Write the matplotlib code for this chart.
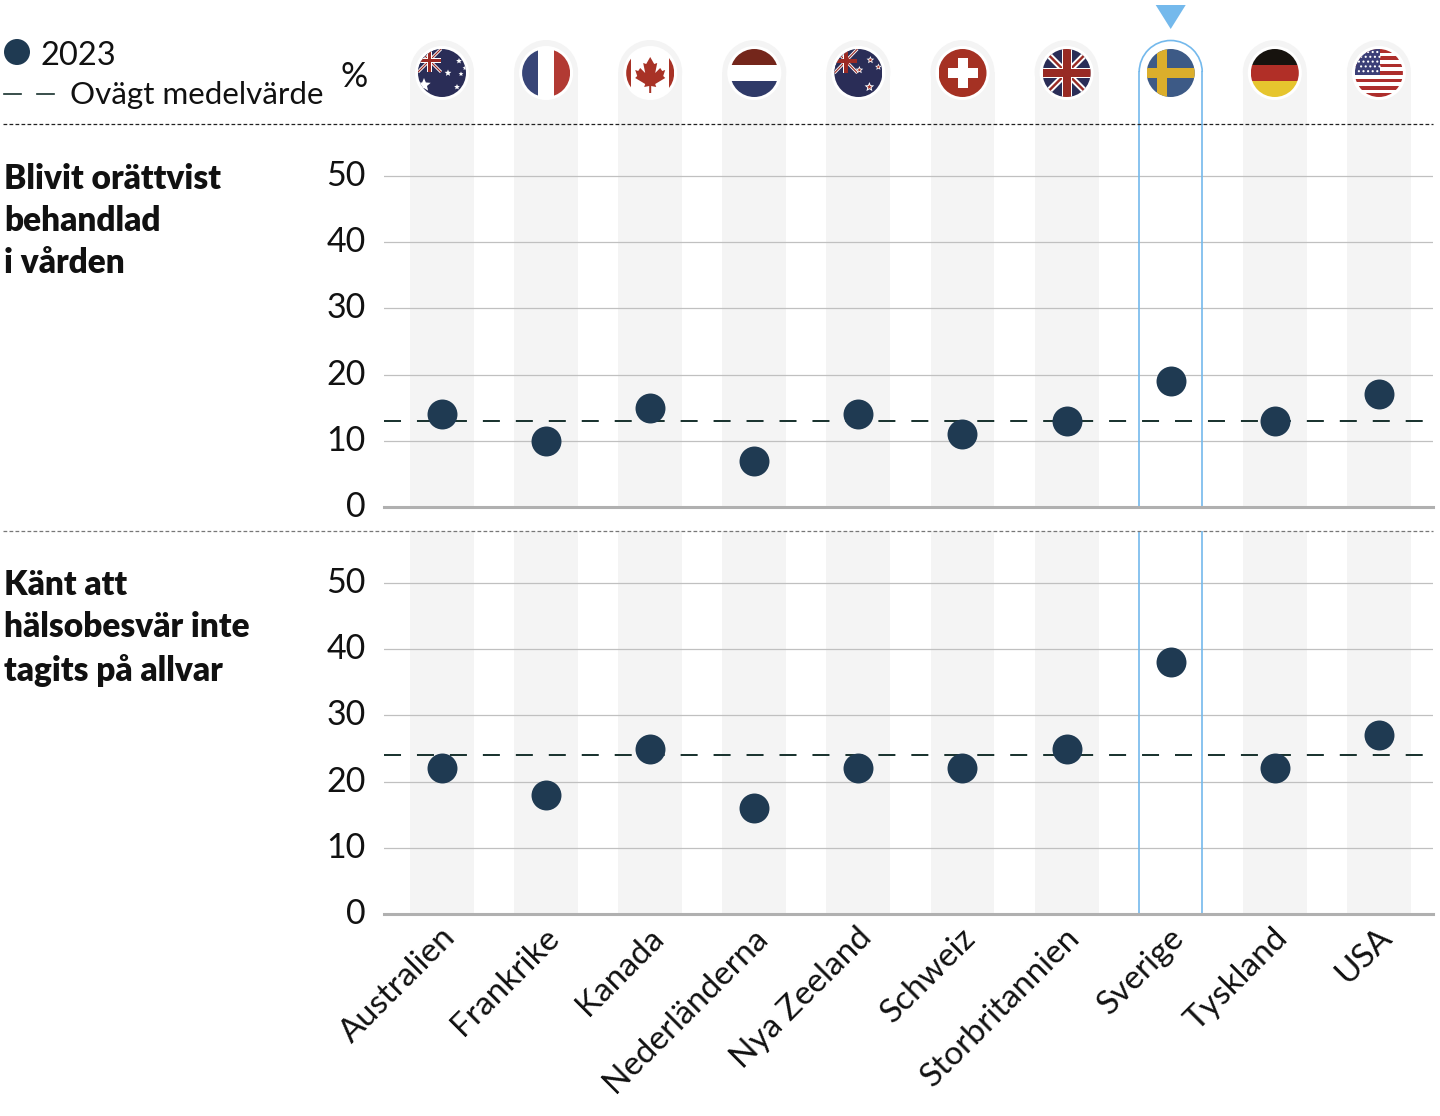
#!/usr/bin/env python3
from math import sin, cos, pi

import matplotlib
matplotlib.use('Agg')
import matplotlib.pyplot as plt
from matplotlib.patches import Circle, Rectangle, Polygon, PathPatch
from matplotlib.path import Path
from matplotlib.transforms import ScaledTranslation

# data
countries = ['Australien', 'Frankrike', 'Kanada', 'Nederländerna', 'Nya Zeeland',
             'Schweiz', 'Storbritannien', 'Sverige', 'Tyskland', 'USA']
orattvist = [14, 10, 15, 7, 14, 11, 13, 19, 13, 17]
inte_allvar = [22, 18, 25, 16, 22, 22, 25, 38, 22, 27]
mean_orattvist = 13
mean_allvar = 24
y_ticks = [0, 10, 20, 30, 40, 50]
highlight = 'Sverige'
title_top = 'Blivit orättvist\nbehandlad\ni vården'
title_bottom = 'Känt att\nhälsobesvär inte\ntagits på allvar'

W, H = 1440, 1116
DARK = '#1f3a52'
MEAN = '#16302c'
BLUE = '#74b9ec'
BAND = '#f4f4f4'
TEXT = '#111111'
FS = 23.5
plt.rcParams['font.family'] = ['Lato', 'DejaVu Sans']

# pixel layout of the panels
X0, X1 = 384, 1433
CX0, STEP = 442, 104.1
PX_PER_UNIT = 6.62


def cx(i):
    return CX0 + STEP * i


fig = plt.figure(figsize=(W / 100, H / 100), dpi=100)
bg = fig.add_axes([0, 0, 1, 1], zorder=0)
bg.set_xlim(0, W)
bg.set_ylim(H, 0)
bg.axis('off')
fg = fig.add_axes([0, 0, 1, 1], zorder=5)
fg.set_xlim(0, W)
fg.set_ylim(H, 0)
fg.axis('off')


def nudge(labels, dx_px, dy_px):
    # flytta tick-etiketter några pixlar
    off = ScaledTranslation(dx_px / 100, dy_px / 100, fig.dpi_scale_trans)
    for lab in labels:
        lab.set_transform(lab.get_transform() + off)


def panel(top_px, bottom_px, values, mean):
    ax = fig.add_axes([X0 / W, 1 - bottom_px / H, (X1 - X0) / W, (bottom_px - top_px) / H], zorder=2)
    ax.patch.set_alpha(0)
    ax.set_xlim((X0 - CX0) / STEP, (X1 - CX0) / STEP)
    ax.set_ylim(0, (bottom_px - top_px) / PX_PER_UNIT)
    for s in ['top', 'left', 'right']:
        ax.spines[s].set_visible(False)
    ax.spines['bottom'].set_color('#b0b0b0')
    ax.spines['bottom'].set_linewidth(2.2)
    ax.set_yticks(y_ticks)
    ax.tick_params(axis='y', length=0, pad=13, labelsize=FS + 1, labelcolor=TEXT)
    ax.tick_params(axis='x', length=0)
    nudge(ax.get_yticklabels(), 0, 3)
    ax.grid(axis='y', color='#c0c0c0', lw=0.9, zorder=1)
    ax.set_axisbelow(True)
    xs = list(range(len(values)))
    for i in xs:
        if countries[i] == highlight:
            for edge in (-0.303, 0.303):
                ax.axvline(i + edge, color=BLUE, lw=1.2, zorder=2)
        else:
            ax.axvspan(i - 0.307, i + 0.307, color=BAND, lw=0, zorder=0)
    ax.axhline(mean, color=MEAN, lw=1.4, dashes=(8.75, 8.2), zorder=3)
    ax.scatter(xs, values, s=465, color=DARK, linewidths=0, zorder=4, clip_on=False)
    return ax


top = panel(124, 507, orattvist, mean_orattvist)
bottom = panel(531, 914, inte_allvar, mean_allvar)
top.set_xticks([])
bottom.set_xticks(range(len(countries)))
bottom.set_xticklabels(countries, rotation=45, ha='right', rotation_mode='anchor',
                       fontsize=FS + 0.5, color=TEXT)
bottom.tick_params(axis='x', pad=6)
nudge(bottom.get_xticklabels(), -2, 0)

# separators
fg.plot([3, X1], [124, 124], color='#222222', lw=0.9, dashes=(3, 1.8))
fg.plot([3, X1], [531, 531], color='#777777', lw=0.9, dashes=(3, 1.8))

# headings
bg.text(4, 221, title_top, fontsize=24, fontweight='heavy', va='center', ha='left',
        linespacing=1.38, color=TEXT)
bg.text(4, 628, title_bottom, fontsize=24, fontweight='heavy', va='center', ha='left',
        linespacing=1.38, color=TEXT)

# legend
bg.add_patch(Circle((17, 52), 13, color=DARK, lw=0))
bg.text(41, 56, '2023', fontsize=FS, va='center', color=TEXT)
bg.plot([4, 21], [94, 94], color=MEAN, lw=1.2)
bg.plot([37, 54], [94, 94], color=MEAN, lw=1.2)
bg.text(70, 95, 'Ovägt medelvärde', fontsize=22.6, va='center', color=TEXT)
bg.text(354, 77, '%', fontsize=FS + 1, va='center', ha='center', color=TEXT)

# swedish marker
sv = cx(countries.index(highlight))
bg.add_patch(Polygon([(sv - 15, 5), (sv + 15, 5), (sv, 29)], color=BLUE, lw=0))


def star(x, y, r, color='white', n=5):
    pts = []
    for k in range(2 * n):
        rr = r if k % 2 == 0 else r * 0.45
        a = -pi / 2 + k * pi / n
        pts.append((x + rr * cos(a), y + rr * sin(a)))
    return Polygon(pts, color=color, lw=0)


def union_jack(x0, y0, x1, y1, blue='#2a2d57', red='#9b2a24'):
    """Brittisk flagga i rutan x0..x1, y0..y1"""
    out = [Rectangle((x0, y0), x1 - x0, y1 - y0, color=blue, lw=0)]
    w = x1 - x0
    for a, b, col, lw in [((x0, y0), (x1, y1), 'white', w * 0.13), ((x0, y1), (x1, y0), 'white', w * 0.13),
                          ((x0, y0), (x1, y1), red, w * 0.05), ((x0, y1), (x1, y0), red, w * 0.05)]:
        out.append(([a[0], b[0]], [a[1], b[1]], col, lw))
    mx, my = (x0 + x1) / 2, (y0 + y1) / 2
    t = w * 0.105
    out.append(Rectangle((x0, my - t), w, 2 * t, color='white', lw=0))
    out.append(Rectangle((mx - t, y0), 2 * t, y1 - y0, color='white', lw=0))
    t = w * 0.085
    out.append(Rectangle((x0, my - t), w, 2 * t, color=red, lw=0))
    out.append(Rectangle((mx - t, y0), 2 * t, y1 - y0, color=red, lw=0))
    return out


def add_items(items, clip):
    for it in items:
        if isinstance(it, tuple):
            ln, = bg.plot(it[0], it[1], color=it[2], lw=it[3] * 0.72, solid_capstyle='butt', zorder=3)
            ln.set_clip_path(clip)
        else:
            it.set_zorder(3)
            bg.add_patch(it)
            it.set_clip_path(clip)


def flag_items(name, x, y, r=24):
    x0, x1, y0, y1 = x - r, x + r, y - r, y + r
    h = 2 * r

    def rect(a, b, c, d, col):
        return Rectangle((a, b), c - a, d - b, color=col, lw=0)

    if name == 'Australien':
        items = [rect(x0, y0, x1, y1, '#2a2d57')]
        items += union_jack(x0, y0, x0 + 23, y0 + 23)
        items += [star(x - 18, y + 12, 7), star(x + 6, y, 3.5), star(x + 17, y - 12, 3),
                  star(x + 15, y + 14, 3), star(x + 19, y + 1, 2.5), star(x + 23, y - 5, 2.5)]
    elif name == 'Frankrike':
        items = [rect(x0, y0, x - 8, y1, '#384577'), rect(x - 8, y0, x + 8, y1, 'white'),
                 rect(x + 8, y0, x1, y1, '#b23a33')]
    elif name == 'Kanada':
        items = [rect(x0, y0, x1, y1, 'white'), rect(x0, y0, x - 19, y1, '#a83226'),
                 rect(x + 19, y0, x1, y1, '#a83226')]
        leaf = [(0, -16), (4, -9), (7, -10), (5, 0), (10, -5), (12, -2), (15, -3), (13, 3), (15, 5),
                (5, 11), (6, 14), (1, 13), (1, 20), (-1, 20), (-1, 13), (-6, 14), (-5, 11), (-15, 5),
                (-13, 3), (-15, -3), (-12, -2), (-10, -5), (-5, 0), (-7, -10), (-4, -9)]
        items.append(Polygon([(x + a, y + b) for a, b in leaf], color='#a83226', lw=0))
    elif name == 'Nederländerna':
        items = [rect(x0, y0, x1, y0 + h / 3, '#74261b'), rect(x0, y0 + h / 3, x1, y0 + 2 * h / 3, 'white'),
                 rect(x0, y0 + 2 * h / 3, x1, y1, '#2f3a68')]
    elif name == 'Nya Zeeland':
        items = [rect(x0, y0, x1, y1, '#2a2d57')]
        items += union_jack(x0, y0, x0 + 23, y0 + 24)
        for a, b, s in [(12, -13, 4), (1, -3, 4), (20, -6, 3.5), (11, 14, 5)]:
            items += [star(x + a, y + b, s), star(x + a, y + b, s * 0.5, '#a83226')]
    elif name == 'Schweiz':
        items = [rect(x0, y0, x1, y1, '#a53123'), rect(x - 15, y - 5, x + 15, y + 5, 'white'),
                 rect(x - 5, y - 15, x + 5, y + 15, 'white')]
    elif name == 'Storbritannien':
        items = union_jack(x0, y0, x1, y1, red='#982a24')
    elif name == 'Sverige':
        items = [rect(x0, y0, x1, y1, '#3d5a86'), rect(x0, y - 5, x1, y + 5, '#dbae2b'),
                 rect(x - 14, y0, x - 4, y1, '#dbae2b')]
    elif name == 'Tyskland':
        items = [rect(x0, y0, x1, y0 + h / 3, '#17130e'), rect(x0, y0 + h / 3, x1, y0 + 2 * h / 3, '#b12f27'),
                 rect(x0, y0 + 2 * h / 3, x1, y1, '#e6c52e')]
    else:  # USA
        items = [rect(x0, y0, x1, y1, 'white')]
        for k in range(0, 13, 2):
            items.append(rect(x0, y0 + k * h / 13, x1, y0 + (k + 1) * h / 13, '#ad2e2c'))
        items.append(rect(x0, y0, x + 1, y0 + 7 * h / 13, '#3b3f77'))
        for row in range(5):
            for col in range(5):
                items.append(Circle((x0 + 4 + col * 4.6 + (row % 2) * 2.2, y0 + 3 + row * 4.8), 1.1,
                                    color='white', lw=0))
    return items


# flags and header domes
FY = 73
for i, name in enumerate(countries):
    x = cx(i)
    if name == highlight:
        # kupolen: halvcirkel och raka sidor ner till streckad linje
        arc = Path.arc(180, 360)
        bg.add_patch(PathPatch(Path(arc.vertices * 31.5 + [x, 72], arc.codes), fc='none', ec=BLUE, lw=1.2, zorder=2))
        bg.plot([x - 31.5, x - 31.5], [72, 124], color=BLUE, lw=1.2, zorder=2)
        bg.plot([x + 31.5, x + 31.5], [72, 124], color=BLUE, lw=1.2, zorder=2)
    else:
        bg.add_patch(Circle((x, 72), 32, color=BAND, lw=0, zorder=1))
        bg.add_patch(Rectangle((x - 32, 72), 64, 52, color=BAND, lw=0, zorder=1))
        bg.add_patch(Circle((x, FY), 27, color='white', lw=0, zorder=2))
    clip = Circle((x, FY), 24, transform=bg.transData)
    add_items(flag_items(name, x, FY), clip)

fig.savefig('out.png', dpi=100)
